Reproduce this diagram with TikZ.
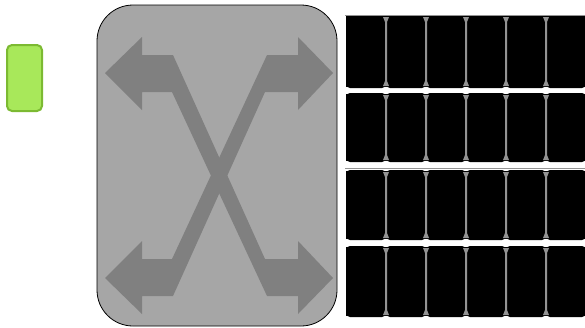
\documentclass[tikz,border=0pt]{standalone}
\definecolor{ledfill}{HTML}{A8E85A}
\definecolor{ledline}{HTML}{7CBA32}
\definecolor{bodygray}{HTML}{A6A6A6}
\definecolor{arrowgray}{HTML}{808080}
\definecolor{bargray}{HTML}{939393}
\begin{document}
\begin{tikzpicture}[x=1pt,y=-1pt]
        \useasboundingbox (0,0) rectangle (585,327);
        %% Status light
        \draw[draw=ledline,fill=ledfill,line width=2pt,rounded corners=5pt] (7,45) rectangle (42,111);
        %% Switch body
        \draw[fill=bodygray,line width=0.8pt,rounded corners=36pt] (97,5) rectangle (337,326);
        %% Crossing arrows
        \fill[arrowgray] (105,73) -- (142,37) -- (142,55) -- (173,55) -- (265,259) -- (298,259)
            -- (298,241) -- (333,278) -- (298,314) -- (298,296) -- (267,296) -- (172,92)
            -- (142,92) -- (142,110) -- cycle;
        \fill[arrowgray] (105,278) -- (142,241) -- (142,259) -- (172,259) -- (267,55) -- (298,55)
            -- (298,37) -- (333,73) -- (298,110) -- (298,92) -- (265,92) -- (173,296)
            -- (142,296) -- (142,314) -- cycle;
        %% Port rows
        \foreach \top/\bot in {15/88,93/162,170/240,246/317} {
            \fill ({346},\top+1) rectangle (585,\bot-1);
            \foreach \i in {0,...,5}
                \fill[rounded corners=4pt] ({346+40*\i},\top) rectangle ({386+40*\i},\bot);
            \foreach \i in {1,...,5}
                \fill[bargray] ({346+40*\i-3},\top+2) -- ({346+40*\i+3},\top+2) -- ({346+40*\i+1},\top+7)
                    -- ({346+40*\i+1},\bot-7) -- ({346+40*\i+3},\bot-2) -- ({346+40*\i-3},\bot-2)
                    -- ({346+40*\i-1},\bot-7) -- ({346+40*\i-1},\top+7) -- cycle;
        }
        \draw[bargray,line width=0.8pt] (345,15) -- (585,15);
        \draw[bargray,line width=0.8pt] (345,168) -- (585,168);
    \end{tikzpicture}
\end{document}
